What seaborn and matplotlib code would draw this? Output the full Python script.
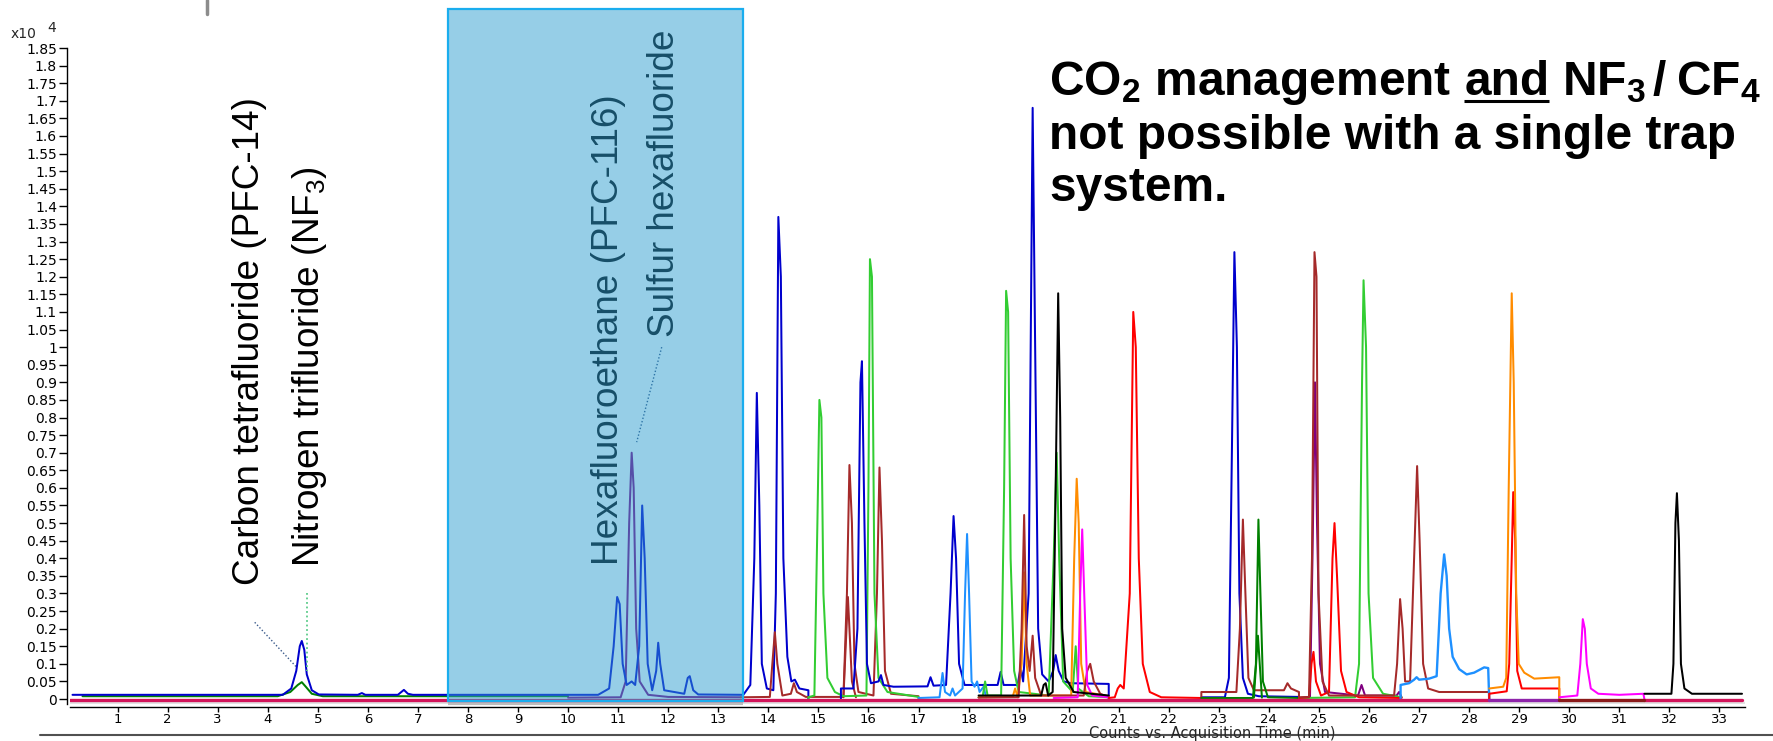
import numpy as np
import pandas as pd
import matplotlib
matplotlib.use("Agg")
import matplotlib.pyplot as plt
import seaborn as sns
from matplotlib.patches import Rectangle
from matplotlib.lines import Line2D

# ---------------- data: (retention time [min], counts [x10^4]) ----------------
blue_a = [(0.1,0.012),(4.3,0.012),(4.47,0.03),(4.57,0.08),(4.64,0.15),(4.68,0.165),(4.73,0.14),(4.78,0.07),
          (4.88,0.025),(5.02,0.013),(5.8,0.012),(5.88,0.017),(5.95,0.012),(6.6,0.012),(6.72,0.026),(6.8,0.015),
          (6.9,0.012),(10.6,0.012),(10.82,0.03),(10.91,0.15),(10.98,0.29),(11.03,0.27),(11.09,0.1),(11.17,0.04),
          (11.27,0.05),(11.34,0.04),(11.42,0.15),(11.48,0.55),(11.53,0.4),(11.59,0.1),(11.68,0.025),(11.76,0.08),
          (11.8,0.16),(11.84,0.1),(11.92,0.025),(12.32,0.015),(12.39,0.06),(12.43,0.065),(12.5,0.025),(12.6,0.013),
          (13.5,0.012),(13.64,0.04),(13.72,0.4),(13.77,0.87),(13.82,0.55),(13.87,0.1),(13.97,0.03),(14.1,0.025),
          (14.15,0.3),(14.2,1.37),(14.25,1.2),(14.3,0.4),(14.38,0.12),(14.46,0.05),(14.53,0.055),(14.62,0.03),
          (14.8,0.025),(14.8,0.0)]
blue_b = [(15.45,0.0),(15.45,0.03),(15.7,0.03),(15.78,0.2),(15.84,0.9),(15.87,0.96),(15.92,0.5),(15.97,0.1),
          (16.05,0.045),(16.2,0.05),(16.25,0.068),(16.3,0.04),(16.5,0.035),(17.18,0.036),(17.24,0.062),(17.3,0.038),
          (17.55,0.04),(17.64,0.3),(17.7,0.52),(17.75,0.4),(17.81,0.1),(17.92,0.04),(18.58,0.04),(18.64,0.077),
          (18.7,0.04),(18.98,0.04),(19.04,0.09),(19.09,0.05),(19.2,0.3),(19.28,1.68),(19.33,1.0),(19.39,0.2),
          (19.47,0.07),(19.6,0.05),(19.69,0.08),(19.74,0.125),(19.8,0.08),(19.9,0.05),(20.05,0.045),(20.8,0.043),
          (20.8,0.0)]
blue_c = [(22.65,0.0),(22.65,0.005),(23.12,0.005),(23.2,0.06),(23.26,0.7),(23.31,1.27),(23.36,1.0),(23.41,0.3),
          (23.48,0.06),(23.58,0.015),(23.8,0.008),(24.6,0.006),(24.6,0.0)]
purple_a = [(10.0,0.004),(11.05,0.005),(11.15,0.05),(11.22,0.5),(11.27,0.70),(11.31,0.6),(11.36,0.2),(11.43,0.05),
            (11.6,0.012),(12.0,0.006),(13.45,0.005)]
purple_b = [(24.6,0.003),(24.82,0.005),(24.87,0.4),(24.92,0.9),(24.96,0.5),(25.02,0.1),(25.12,0.02),(25.78,0.01),
            (25.85,0.04),(25.92,0.01),(26.55,0.01),(26.6,0.02),(26.65,0.005)]
purple_c = [(28.4,-0.003),(29.8,-0.003)]
dgreen_a = [(0.3,0.008),(4.2,0.008),(4.45,0.02),(4.6,0.04),(4.68,0.048),(4.76,0.035),(4.88,0.015),(5.1,0.008),
            (10.0,0.008)]
dgreen_b = [(22.65,0.003),(23.68,0.003),(23.74,0.1),(23.79,0.51),(23.83,0.3),(23.88,0.05),(23.98,0.005),(24.6,0.003)]
dgreen_c = [(23.7,0.004),(23.78,0.18),(23.86,0.004)]
lime_a = [(14.8,0.0),(14.8,0.005),(14.92,0.01),(14.98,0.5),(15.02,0.85),(15.06,0.8),(15.1,0.3),(15.18,0.06),
          (15.33,0.02),(15.5,0.008),(15.96,0.01),(16.0,0.6),(16.03,1.25),(16.07,1.2),(16.12,0.3),(16.2,0.06),
          (16.38,0.02),(17.0,0.006),(17.0,0.0)]
lime_b = [(18.2,0.005),(18.28,0.006),(18.33,0.05),(18.38,0.01),(18.65,0.01),(18.71,0.6),(18.75,1.16),(18.79,1.1),
          (18.84,0.4),(18.91,0.08),(19.0,0.02),(19.6,0.01),(19.7,0.4),(19.76,0.7),(19.81,0.4),(19.89,0.05),
          (20.08,0.02),(20.14,0.15),(20.19,0.03),(20.4,0.008),(20.8,0.005)]
lime_c = [(24.6,0.003),(25.72,0.005),(25.8,0.1),(25.86,0.9),(25.89,1.19),(25.94,1.0),(25.99,0.3),(26.08,0.06),
          (26.28,0.015),(26.65,0.005)]
brown_a = [(13.45,0.005),(14.03,0.006),(14.08,0.1),(14.13,0.19),(14.18,0.1),(14.28,0.01),(14.45,0.015),(14.51,0.045),
           (14.57,0.02),(14.75,0.006),(15.5,0.006),(15.57,0.3),(15.62,0.665),(15.67,0.5),(15.72,0.1),(15.8,0.02),
           (16.1,0.01),(16.17,0.3),(16.22,0.658),(16.27,0.45),(16.33,0.08),(16.45,0.015),(17.0,0.008)]
brown_b = [(15.5,0.005),(15.59,0.29),(15.67,0.05),(15.75,0.005)]
brown_c = [(18.2,0.004),(19.0,0.005),(19.06,0.2),(19.11,0.523),(19.16,0.15),(19.22,0.08),(19.28,0.18),(19.33,0.06),
           (19.45,0.01),(20.3,0.01),(20.37,0.08),(20.43,0.1),(20.5,0.05),(20.63,0.015),(20.8,0.005)]
brown_d = [(22.65,0.0),(22.65,0.02),(23.35,0.02),(23.42,0.2),(23.48,0.51),(23.53,0.3),(23.59,0.06),(23.7,0.025),
           (24.3,0.025),(24.37,0.045),(24.44,0.03),(24.6,0.02),(24.6,0.0)]
brown_e = [(24.6,0.005),(24.8,0.006),(24.86,0.4),(24.91,1.27),(24.95,1.2),(24.99,0.3),(25.07,0.05),(25.2,0.01),
           (26.5,0.01),(26.56,0.1),(26.62,0.284),(26.67,0.2),(26.72,0.05),(26.82,0.05),(26.9,0.4),(26.96,0.662),
           (27.01,0.45),(27.08,0.1),(27.18,0.03),(27.4,0.02),(28.4,0.02),(28.4,0.0)]
red_a = [(20.8,0.003),(20.92,0.005),(20.98,0.03),(21.03,0.04),(21.1,0.03),(21.22,0.3),(21.29,1.10),(21.34,1.0),
         (21.4,0.4),(21.48,0.1),(21.62,0.02),(21.85,0.005),(22.65,0.003)]
red_b = [(24.6,0.003),(24.8,0.005),(24.85,0.1),(24.89,0.134),(24.94,0.05),(25.04,0.01),(25.2,0.02),(25.27,0.4),
         (25.31,0.5),(25.36,0.35),(25.44,0.08),(25.55,0.02),(25.8,0.005),(26.65,0.003)]
red_c = [(28.4,0.0),(28.4,0.015),(28.75,0.022),(28.8,0.1),(28.85,0.4),(28.88,0.588),(28.92,0.45),(28.96,0.08),
         (29.05,0.03),(29.8,0.03),(29.8,0.0)]
orange_a = [(18.2,0.005),(18.88,0.006),(18.93,0.03),(18.98,0.005),(19.06,0.1),(19.11,0.36),(19.16,0.1),(19.23,0.01),
            (20.05,0.01),(20.11,0.4),(20.16,0.626),(20.2,0.5),(20.25,0.1),(20.34,0.02),(20.8,0.008)]
orange_b = [(28.4,0.03),(28.68,0.035),(28.74,0.06),(28.79,0.6),(28.85,1.153),(28.89,0.9),(28.94,0.3),(28.99,0.1),
            (29.1,0.075),(29.3,0.058),(29.8,0.062),(29.8,0.0)]
magenta_a = [(19.7,0.003),(20.18,0.005),(20.23,0.3),(20.27,0.482),(20.31,0.3),(20.37,0.04),(20.47,0.01),(20.8,0.005)]
magenta_b = [(29.8,0.005),(30.16,0.01),(30.22,0.1),(30.27,0.227),(30.31,0.2),(30.35,0.1),(30.43,0.03),(30.58,0.015),
             (31.0,0.012),(31.48,0.015),(31.5,0.0)]
black_a = [(18.2,0.01),(19.45,0.01),(19.5,0.04),(19.54,0.045),(19.59,0.01),(19.68,0.02),(19.74,0.6),(19.79,1.153),
           (19.83,0.8),(19.87,0.2),(19.94,0.06),(20.1,0.02),(20.8,0.01)]
black_b = [(31.5,0.015),(32.04,0.015),(32.08,0.1),(32.12,0.5),(32.15,0.585),(32.19,0.45),(32.23,0.1),(32.3,0.03),
           (32.45,0.015),(33.45,0.015)]
dodger_a = [(17.0,0.003),(17.42,0.005),(17.48,0.074),(17.53,0.02),(17.63,0.01),(17.68,0.03),(17.73,0.01),(17.88,0.03),
            (17.93,0.3),(17.97,0.469),(18.01,0.3),(18.06,0.05),(18.12,0.035),(18.17,0.05),(18.22,0.02),(18.3,0.035),
            (18.35,0.005)]
dodger_b = [(26.63,0.0),(26.63,0.04),(26.8,0.045),(26.9,0.055),(26.95,0.062),(27.0,0.055),(27.2,0.058),(27.35,0.065),
            (27.43,0.3),(27.5,0.411),(27.55,0.35),(27.6,0.2),(27.67,0.12),(27.8,0.085),(27.95,0.07),(28.1,0.075),
            (28.3,0.09),(28.38,0.088),(28.4,0.0)]
crimson_a = [(0.05,-0.003),(28.4,-0.003)]
crimson_b = [(31.5,-0.003),(33.45,-0.003)]
darkred_a = [(29.8,-0.003),(31.5,-0.003)]

x_ticks = list(range(1, 34))
y_ticks = [round(0.05 * i, 2) for i in range(38)]
highlight_x = (7.6, 13.49)
highlight_y = (-0.005, 1.961)

labels = ["Carbon tetrafluoride (PFC-14)", "Nitrogen trifluoride (NF$_3$)",
          "Hexafluoroethane (PFC-116)", "Sulfur hexafluoride"]
label_pos = [(3.64, 0.324), (4.84, 0.375), (10.8, 0.381), (11.93, 1.029)]

headline_1 = ["CO$_2$ management", "and", "NF$_3$", "/", "CF$_4$"]
headline_gaps = [0.0, 0.27, 0.27, 0.13, 0.22]   # gap (em) before each piece
headline_2 = "not possible with a single trap"
headline_3 = "system."

# ---------------- figure ----------------
sns.set_theme(style="white")
plt.rcParams["font.family"] = ["Liberation Sans", "DejaVu Sans"]
plt.rcParams["mathtext.default"] = "regular"

W, H = 1774, 741
fig = plt.figure(figsize=(W / 100, H / 100), dpi=100)
fig.patch.set_facecolor("white")
ax = fig.add_axes([70 / W, 0.0495, 1674.5 / W, 0.8857])
ax.set_facecolor("white")

LW = 1.45
traces = [
    (purple_b, "#800080", LW), (dgreen_a, "#008000", LW), (purple_a, "#800080", LW),
    (blue_a, "#0000CD", LW), (brown_a, "#A52A2A", LW), (brown_b, "#A52A2A", LW),
    (lime_a, "#32CD32", LW), (blue_b, "#0000CD", LW), (dodger_a, "#1E90FF", LW),
    (lime_b, "#32CD32", LW), (orange_a, "#FF8C00", LW), (brown_c, "#A52A2A", LW),
    (magenta_a, "#FF00FF", LW), (black_a, "#000000", LW), (red_a, "#FF0000", LW),
    (blue_c, "#0000CD", LW), (brown_d, "#A52A2A", LW), (dgreen_c, "#008000", LW),
    (dgreen_b, "#008000", LW), (lime_c, "#32CD32", LW), (red_b, "#FF0000", LW),
    (brown_e, "#A52A2A", LW), (dodger_b, "#1E90FF", 1.7), (red_c, "#FF0000", LW),
    (orange_b, "#FF8C00", LW), (magenta_b, "#FF00FF", LW), (black_b, "#000000", LW),
    (crimson_a, "#D2145A", 2.4), (crimson_b, "#D2145A", 2.4), (purple_c, "#8E24AA", 2.4),
    (darkred_a, "#8B1A1A", 2.4),
]
for pts, col, lw in traces:
    df = pd.DataFrame(pts, columns=["time", "counts"])
    sns.lineplot(data=df, x="time", y="counts", ax=ax, color=col, lw=lw,
                 sort=False, estimator=None, legend=False, zorder=3)

ax.set_xlim(0.05, 33.5)
ax.set_ylim(-0.015, 1.85)
ax.set_xlabel("")
ax.set_ylabel("")

# light frame shadow
ax.axhline(-0.0125, color="#E2E2E2", lw=2.5, zorder=1)

for s in ["top", "right"]:
    ax.spines[s].set_visible(False)
ax.spines["left"].set_position(("outward", 2.4))
ax.spines["bottom"].set_position(("outward", 2.2))
for s in ["left", "bottom"]:
    ax.spines[s].set_color("black")
    ax.spines[s].set_linewidth(1.0)

ax.set_xticks(x_ticks)
ax.set_xticklabels([str(v) for v in x_ticks])
ax.set_yticks(y_ticks)
ax.set_yticklabels([f"{v:g}" for v in y_ticks])
ax.tick_params(axis="x", direction="out", length=3.5, width=1, pad=0.4, labelsize=9.5, colors="black")
ax.tick_params(axis="y", direction="out", length=5.5, width=1, pad=1.5, labelsize=10, colors="black")
ax.tick_params(left=True, bottom=True)
for lab in ax.get_xticklabels() + ax.get_yticklabels():
    lab.set_family("DejaVu Sans")

# highlight box (translucent, over the traces)
rect = Rectangle((highlight_x[0], highlight_y[0]), highlight_x[1] - highlight_x[0],
                 highlight_y[1] - highlight_y[0], facecolor=(0.18, 0.62, 0.82, 0.5),
                 edgecolor="#1AADEE", lw=1.6, clip_on=False, zorder=6)
ax.add_patch(rect)
ax.plot([highlight_x[0], highlight_x[1]], [-0.0125, -0.0125], color="#BDBDBD", lw=3,
        solid_capstyle="butt", clip_on=False, zorder=2)

# compound labels
for i, (txt, (lx, ly)) in enumerate(zip(labels, label_pos)):
    ax.text(lx, ly, txt, rotation=90, ha="center", va="bottom", fontsize=26.6,
            color="black", family="Liberation Sans", zorder=7 if i < 2 else 5)

# dotted leader lines
ax.plot([3.74, 4.58], [0.218, 0.09], ls=(0, (1, 1.5)), color="#3B5B8C", lw=1.0, zorder=7)
ax.plot([4.79, 4.79], [0.30, 0.08], ls=(0, (1, 1.5)), color="#5CCB8A", lw=1.3, zorder=7)
ax.plot([11.87, 11.37], [1.0, 0.73], ls=(0, (1, 1.5)), color="#2E4A7A", lw=1.0, zorder=5)

# x10^4 multiplier
fig.text(11 / W, 1 - 38 / H, "x10", fontsize=10, family="DejaVu Sans", va="baseline", ha="left")
fig.text(47 / W, 1 - 32 / H, "4", fontsize=10, family="DejaVu Sans", va="baseline", ha="left")

# axis title (sits at the very bottom edge, as in the original)
fig.text(1212 / W, 0.0, "Counts vs. Acquisition Time (min)", fontsize=10.5,
         family="DejaVu Sans", ha="center", va="bottom")
fig.add_artist(Line2D([40 / W, 1.0], [1 - 735 / H] * 2, color="#505050", lw=1.5,
                      transform=fig.transFigure, zorder=0))
fig.add_artist(Line2D([207 / W, 207 / W], [1.0, 1 - 14 / H], color="#8C8C8C", lw=2.5,
                      transform=fig.transFigure))

# headline text
renderer = fig.canvas.get_renderer()
fs = 34.5
em = fs * 100 / 72
x0 = 1049
base1, base2, base3 = 95, 149, 201
kw = dict(fontsize=fs, fontweight="bold", family="Liberation Sans", va="baseline", ha="left", color="black")
xcur = x0
for piece, gap in zip(headline_1, headline_gaps):
    xcur += gap * em
    t = fig.text(xcur / W, 1 - base1 / H, piece, **kw)
    bb = t.get_window_extent(renderer)
    if piece == "and":
        fig.add_artist(Line2D([bb.x0 / W, bb.x1 / W], [(H - base1 - 6) / H] * 2, color="black",
                              lw=2.2, transform=fig.transFigure, solid_capstyle="butt"))
    xcur = bb.x1
fig.text(x0 / W, 1 - base2 / H, headline_2, **kw)
fig.text(x0 / W, 1 - base3 / H, headline_3, **kw)

fig.savefig("out.png", dpi=100, facecolor="white")
